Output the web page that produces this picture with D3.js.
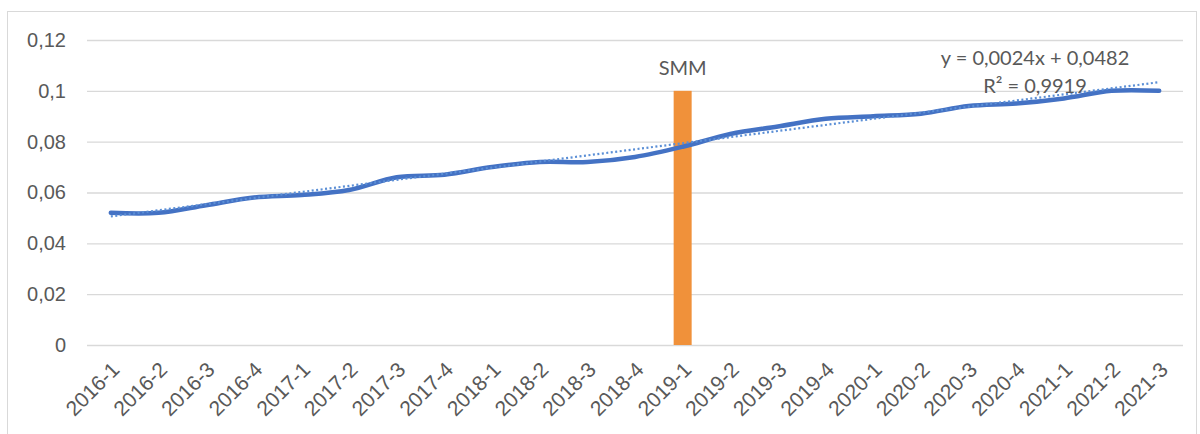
<!DOCTYPE html>
<html>
<head>
<meta charset="utf-8">
<script src="https://cdn.jsdelivr.net/npm/d3@7"></script>
<style>
  body { margin: 0; background: #fff; }
  svg { display: block; font-family: Lato, "Open Sans", sans-serif; }
</style>
</head>
<body>
<div id="chart"></div>
<script>
// quarters on the x axis
const quarters = ["2016-1","2016-2","2016-3","2016-4","2017-1","2017-2","2017-3","2017-4",
  "2018-1","2018-2","2018-3","2018-4","2019-1","2019-2","2019-3","2019-4",
  "2020-1","2020-2","2020-3","2020-4","2021-1","2021-2","2021-3"];
// series values
const values = [0.052,0.052,0.055,0.058,0.059,0.061,0.066,0.067,
  0.070,0.072,0.072,0.074,0.078,0.083,0.086,0.089,
  0.090,0.091,0.094,0.095,0.097,0.100,0.100];
// marker bar (SMM)
const markerCat = ["2019-1"];
const markerVal = [0.1];
const markerLabel = ["SMM"];
// trendline as printed on the chart
const trendSlope = 0.0024;
const trendIntercept = 0.0482;
const trendText = ["y = 0,0024x + 0,0482", "R² = 0,9919"];
const yTicks = [0, 0.02, 0.04, 0.06, 0.08, 0.1, 0.12];

const W = 1200, H = 434;
const margin = {top: 40, right: 17, bottom: 89, left: 87};
const width = W - margin.left - margin.right;
const height = H - margin.top - margin.bottom;

const svg = d3.select("#chart").append("svg").attr("width", W).attr("height", H);

// chart frame
svg.append("rect")
  .attr("x", 7.5).attr("y", 11.5).attr("width", 1189).attr("height", 430)
  .attr("fill", "none").attr("stroke", "#d9d9d9");

const g = svg.append("g").attr("transform", `translate(${margin.left},${margin.top})`);

const x = d3.scaleBand().domain(quarters).range([0, width]);
const y = d3.scaleLinear().domain([0, 0.12]).range([height, 0]);
const fmt = v => d3.format("~g")(v).replace(".", ",");

// gridlines
g.append("g")
  .call(d3.axisLeft(y).tickValues(yTicks).tickSize(-width).tickFormat(""))
  .call(a => a.select(".domain").remove())
  .call(a => a.selectAll("line").attr("stroke", "#d9d9d9").attr("stroke-width", 1.3));

// y labels
g.append("g")
  .call(d3.axisLeft(y).tickValues(yTicks).tickSize(0).tickPadding(21).tickFormat(fmt))
  .call(a => a.select(".domain").remove())
  .call(a => a.selectAll("text").attr("fill", "#595959").style("font-size", "20px"));

// x labels
g.append("g")
  .attr("transform", `translate(0,${height})`)
  .call(d3.axisBottom(x).tickSize(0).tickPadding(0))
  .call(a => a.select(".domain").remove())
  .call(a => a.selectAll("text")
    .attr("fill", "#595959").style("font-size", "21px")
    .attr("text-anchor", "end")
    .attr("dy", "0")
    .attr("transform", "translate(10,26) rotate(-45)"));

// marker bar
const barW = 18;
g.selectAll(".marker").data(markerCat).join("rect")
  .attr("class", "marker")
  .attr("x", (d) => x(d) + x.bandwidth() / 2 - barW / 2)
  .attr("y", (d, i) => y(markerVal[i]))
  .attr("width", barW)
  .attr("height", (d, i) => height - y(markerVal[i]))
  .attr("fill", "#F0913A");

g.selectAll(".marker-label").data(markerCat).join("text")
  .attr("class", "marker-label")
  .attr("x", d => x(d) + x.bandwidth() / 2)
  .attr("y", (d, i) => y(markerVal[i]) - 16)
  .attr("text-anchor", "middle")
  .attr("fill", "#595959")
  .style("font-size", "20px")
  .text((d, i) => markerLabel[i]);

// main series, smoothed
const line = d3.line()
  .x((d, i) => x(quarters[i]) + x.bandwidth() / 2)
  .y(d => y(d))
  .curve(d3.curveCatmullRom.alpha(0.5));

g.append("path")
  .datum(values)
  .attr("fill", "none")
  .attr("stroke", "#4472C4")
  .attr("stroke-width", 4.5)
  .attr("stroke-linejoin", "round")
  .attr("stroke-linecap", "round")
  .attr("d", line);

// linear trendline (x = 1..n)
const trendEnds = [quarters[0], quarters[quarters.length - 1]];
g.append("path")
  .datum(trendEnds)
  .attr("fill", "none")
  .attr("stroke", "#5B8FD6")
  .attr("stroke-width", 2.2)
  .attr("stroke-dasharray", "2,2.5")
  .attr("d", d3.line()
    .x(d => x(d) + x.bandwidth() / 2)
    .y(d => y(trendSlope * (quarters.indexOf(d) + 1) + trendIntercept)));

// trendline label
const tl = g.append("text")
  .attr("fill", "#595959")
  .style("font-size", "20px")
  .attr("text-anchor", "middle");
tl.append("tspan").attr("x", 948).attr("y", 25).text(trendText[0]);
tl.append("tspan").attr("x", 948).attr("y", 53).text(trendText[1]);
</script>
</body>
</html>
